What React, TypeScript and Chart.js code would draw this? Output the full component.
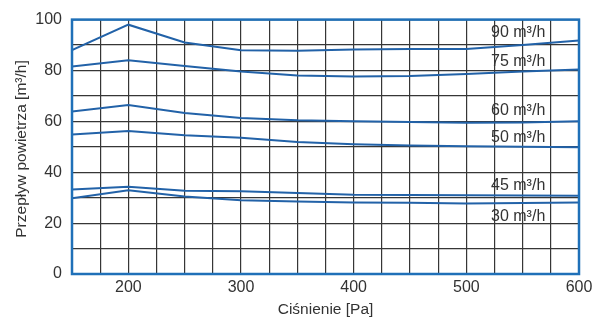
import React, { useEffect, useRef } from "react";
import { Chart, registerables } from "chart.js";

Chart.register(...registerables);

const pressure = [150, 200, 250, 300, 350, 400, 450, 500, 550, 600];
const flow90 = [88, 98, 91, 88, 87.8, 88.2, 88.4, 88.4, 90, 91.8];
const flow75 = [81.6, 84, 81.8, 79.6, 78, 77.6, 77.8, 78.6, 79.6, 80.4];
const flow60 = [63.9, 66.4, 63.3, 61.3, 60.4, 60, 59.7, 59.5, 59.6, 60];
const flow50 = [54.8, 56.2, 54.5, 53.6, 51.9, 51, 50.5, 50.2, 50, 49.8];
const flow45 = [33.2, 34.3, 32.7, 32.5, 31.8, 31.2, 31.1, 31.0, 30.9, 30.8];
const flow30 = [29.8, 32.9, 30.5, 29.0, 28.5, 28.1, 28.0, 27.7, 27.9, 28.1];

const seriesNames = ["90 m³/h", "75 m³/h", "60 m³/h", "50 m³/h", "45 m³/h", "30 m³/h"];
const labelX = [546, 546, 546, 546, 546, 546];
const labelY = [95, 83.5, 64.3, 53.8, 34.9, 22.7];

const xTitle = "Ciśnienie [Pa]";
const yTitle = "Przepływ powietrza [m³/h]";

const FONT = "'Liberation Sans', Arial, Helvetica, sans-serif";
const TEXT = "#333333";
const LINE = "#2262a8";
const BORDER = "#1f70b8";

export default function App() {
  const ref = useRef<HTMLCanvasElement | null>(null);

  useEffect(() => {
    if (!ref.current) return;
    const all = [flow90, flow75, flow60, flow50, flow45, flow30];
    const datasets = all.map((vals, i) => ({
      label: seriesNames[i],
      data: pressure.map((p, j) => ({ x: p, y: vals[j] })),
      borderColor: LINE,
      borderWidth: 2,
      pointRadius: 0,
      tension: 0,
      fill: false,
    }));

    const overlay = {
      id: "overlay",
      afterDatasetsDraw(chart: any) {
        const ctx = chart.ctx;
        const a = chart.chartArea;
        const xs = chart.scales.x;
        const ys = chart.scales.y;
        ctx.save();
        ctx.fillStyle = TEXT;
        ctx.font = `16px ${FONT}`;
        ctx.textAlign = "center";
        ctx.textBaseline = "middle";
        seriesNames.forEach((n, i) => {
          ctx.fillText(n, xs.getPixelForValue(labelX[i]), ys.getPixelForValue(labelY[i]));
        });
        ctx.strokeStyle = BORDER;
        ctx.lineWidth = 2.5;
        ctx.strokeRect(a.left, a.top, a.right - a.left, a.bottom - a.top);
        ctx.font = `15.5px ${FONT}`;
        ctx.fillStyle = TEXT;
        ctx.fillText(xTitle, (a.left + a.right) / 2, 310);
        ctx.translate(22, 149);
        ctx.rotate(-Math.PI / 2);
        ctx.fillText(yTitle, 0, 0);
        ctx.restore();
      },
    };

    const chart = new Chart(ref.current, {
      type: "line",
      data: { datasets },
      options: {
        animation: false,
        responsive: false,
        layout: { padding: { top: 19, right: 19, left: 0, bottom: 0 } },
        plugins: { legend: { display: false }, tooltip: { enabled: false } },
        scales: {
          x: {
            type: "linear",
            min: 150,
            max: 600,
            afterFit: (s: any) => {
              s.height = 46;
            },
            ticks: {
              stepSize: 25,
              autoSkip: false,
              maxRotation: 0,
              padding: 4,
              color: TEXT,
              font: { family: FONT, size: 16 },
              callback: (v: any) => (Number(v) % 100 === 0 ? String(v) : ""),
            },
            grid: { color: "#363636", lineWidth: 1.2, drawTicks: false },
            border: { display: false },
          },
          y: {
            min: 0,
            max: 100,
            afterFit: (s: any) => {
              s.width = 72;
            },
            ticks: {
              stepSize: 10,
              autoSkip: false,
              padding: 10,
              color: TEXT,
              font: { family: FONT, size: 16 },
              callback: (v: any) => (Number(v) % 20 === 0 ? String(v) : ""),
            },
            grid: { color: "#363636", lineWidth: 1.2, drawTicks: false },
            border: { display: false },
          },
        },
      },
      plugins: [overlay],
    } as any);
    return () => chart.destroy();
  }, []);

  return (
    <div style={{ position: "fixed", left: 0, top: 0, width: 598, height: 320, background: "#fff" }}>
      <canvas ref={ref} width={598} height={320} style={{ width: 598, height: 320, display: "block" }} />
    </div>
  );
}
